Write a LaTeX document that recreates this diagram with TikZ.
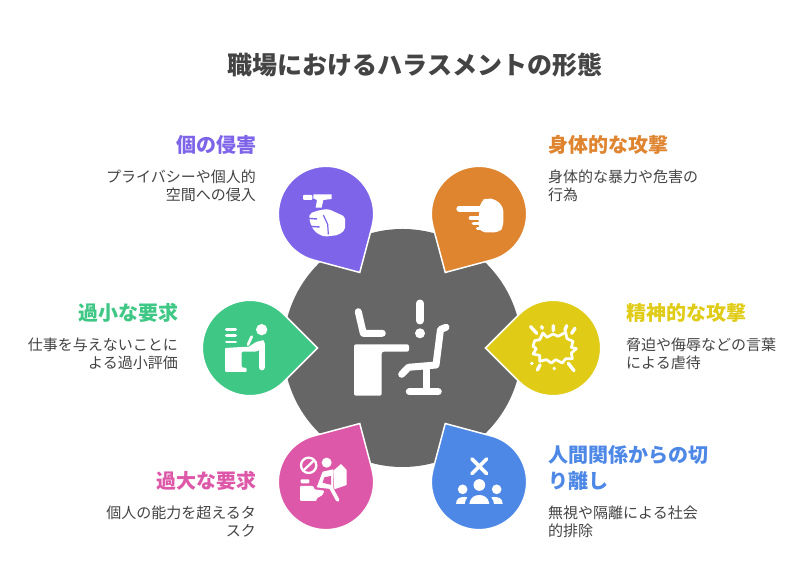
\documentclass[tikz,border=0pt]{standalone}
\usepackage{fontspec}
\setmainfont{Noto Sans CJK JP}
\definecolor{cpurple}{HTML}{7D64E8}
\definecolor{corange}{HTML}{DF842F}
\definecolor{cyellow}{HTML}{E0CC17}
\definecolor{cgreen}{HTML}{3EC785}
\definecolor{cpink}{HTML}{DD58A8}
\definecolor{cblue}{HTML}{4E88E7}
\definecolor{cgray}{HTML}{666666}
\definecolor{ctext}{HTML}{444444}
\tikzset{
  droplet/.style={draw=white,line width=1.5pt},
  ln/.style={draw=white,line cap=round,line join=round},
  headl/.style={inner sep=0pt,font=\fontsize{20}{24}\selectfont\bfseries},
  bodyl/.style={inner sep=0pt,text=ctext,font=\fontsize{15}{18.4}\selectfont},
  icon/.style={shift={#1},scale=1/3},
}
\newcommand{\dropshape}[4]{\begin{scope}[shift={(#1,#2)},rotate=#3]
  \filldraw[droplet,fill=#4] (67.5,0) -- (45:47.7) arc (45:315:47.7) -- cycle;
\end{scope}}
\begin{document}
\begin{tikzpicture}[x=1pt,y=1pt]
\path[use as bounding box,fill=white] (0,0) rectangle (804,588);
\begin{scope}[yshift=588pt,yscale=-1]
\fill[cgray] (402.5,348) circle (119);
\dropshape{326}{214}{60}{cpurple}
\dropshape{479}{214}{120}{corange}
\dropshape{553}{348}{180}{cyellow}
\dropshape{250}{348}{0}{cgreen}
\dropshape{326}{482}{-60}{cpink}
\dropshape{479}{482}{-120}{cblue}

% centre icon
\draw[ln,line width=7pt] (358.3,311.7) -- (363.3,333.3) -- (382.3,333.3);
\fill[white,rounded corners=2pt] (354,344.3) -- (409,344.3) -- (409,351.7) -- (381.7,351.7) -- (381.7,395.7) -- (354,395.7) -- cycle;
\draw[ln,line width=7.5pt] (420,303.3) -- (420,320.7);
\fill[white] (420,333.3) circle (5);
\draw[ln,line width=7pt] (446,327.3) -- (440.5,329.5) -- (436,365) -- (408.5,367.3) -- (401.7,374.3);
\draw[ln,line width=7pt] (409.3,391.7) -- (438.3,391.7);
\draw[draw=white,line width=7pt] (426.7,367) -- (426.7,391.7);

% purple icon
\begin{scope}[icon={(295,185)}]
\fill[white,rounded corners=1pt] (24,30) rectangle (52,45);
\fill[white] (55,28) -- (110,28) -- (110,42) -- (85,45) -- (80,68) -- (62,68) -- (66,45) -- (55,40) -- cycle;
\fill[white,rounded corners=2pt] (75,75) -- (100,72) -- (150,95) -- (150,135) -- (130,150) -- (90,155) -- (75,150) -- (60,140) -- (50,125) -- (42,100) -- (45,85) -- cycle;
\draw[cpurple,line width=1.2pt] (85,90) -- (98,118) -- (100,148);
\draw[cpurple,line width=1.4pt] (40,100) -- (66,102) (46,124) -- (74,126);
\end{scope}

% orange icon
\begin{scope}[icon={(450,185)}]
\draw[ln,line width=6pt] (28,71) -- (100,71);
\fill[white,rounded corners=5pt] (93,46) -- (110,40) -- (135,42) -- (160,65) -- (160,125) -- (148,142) -- (90,142) -- (85,110) -- (88,78) -- cycle;
\draw[ln,line width=4pt] (62,99) -- (90,99);
\draw[ln,line width=3.5pt] (70,116) -- (90,116);
\draw[ln,line width=3pt] (82,132) -- (95,132);
\end{scope}

% green icon
\begin{scope}[icon={(220,318)}]
\fill[white] (125,35) circle (17);
\draw[ln,line width=2.7pt] (19,35) -- (47,35) (19,53) -- (47,53) (19,72) -- (47,72);
\fill[white,rounded corners=1pt] (15,90) -- (65,87) -- (85,87) -- (108,72) -- (132,66) -- (132,90) -- (108,101) -- (65,101) -- (65,148) -- (80,150) -- (80,162) -- (15,162) -- cycle;
\draw[ln,line width=6pt] (125,78) -- (125,148);
\draw[ln,line width=2.7pt] (84,80) -- (95,56);
\end{scope}

% yellow icon
\begin{scope}[icon={(523,318)}]
\draw[ln,line width=2.7pt] (60,45) -- (72,58) -- (90,48) -- (105,55) -- (128,43) -- (132,62) -- (150,70) -- (145,88) -- (160,92) -- (145,105) -- (148,122) -- (128,122) -- (118,135) -- (98,125) -- (85,135) -- (70,125) -- (50,130) -- (50,112) -- (30,108) -- (40,92) -- (30,85) -- (35,68) -- (50,65) -- cycle;
\draw[ln,line width=3.4pt] (23,26) -- (41,46) (56,26) -- (58,31) (91,23) -- (91,38) (131,23) -- (126,36) (156,31) -- (146,46) (26,136) -- (27,136) (51,141) -- (43,156) (94,151) -- (94,152) (136,136) -- (153,158);
\end{scope}

% pink icon
\begin{scope}[icon={(296,450)}]
\draw[white,line width=2.3pt] (38,46) circle (23);
\draw[white,line width=2.3pt] (23,61) -- (54,31);
\fill[white] (92,38) circle (15);
\fill[white,rounded corners=1pt] (14,88) rectangle (40,100);
\fill[white,rounded corners=1pt] (12,108) -- (52,108) -- (55,118) -- (85,122) -- (80,135) -- (62,145) -- (62,153) -- (12,153) -- cycle;
\fill[white] (112,62) -- (135,42) -- (152,60) -- (152,105) -- (115,118) -- cycle;
\fill[white] (80,65) -- (112,58) -- (112,118) -- (62,112) -- cycle;
\fill[cpink] (85,82) -- (105,78) -- (105,105) -- (80,98) -- cycle;
\draw[ln,line width=3.6pt] (102,108) -- (125,150);
\end{scope}

% blue icon
\begin{scope}[icon={(450,450)}]
\draw[white,line width=3.6pt,line cap=round] (66,27) -- (110,71) (110,27) -- (66,71);
\fill[white] (88,105) circle (17.5) (38,118) circle (14.5) (140,118) circle (14.5);
\fill[white] (58,162) .. controls (60,142) and (75,135) .. (88,135) .. controls (101,135) and (116,142) .. (118,162) -- cycle;
\fill[white] (18,162) .. controls (18,145) and (30,138) .. (52,142) .. controls (46,150) and (45,155) .. (44,162) -- cycle;
\fill[white] (158,162) .. controls (158,145) and (146,138) .. (124,142) .. controls (130,150) and (131,155) .. (132,162) -- cycle;
\end{scope}

% texts
\node[inner sep=0pt,text=ctext,font=\fontsize{25}{30}\selectfont\bfseries] (title) at (415,65) {職場におけるハラスメントの形態};

\node[headl,text=cpurple,anchor=east] (h1) at (257,145) {個の侵害};
\node[bodyl,anchor=north east,align=right] (b1) at (256,169.5) {プライバシーや個人的\\空間への侵入};
\node[headl,text=corange,anchor=west] (h2) at (548,145) {身体的な攻撃};
\node[bodyl,anchor=north west,align=left] (b2) at (548,169.5) {身体的な暴力や危害の\\行為};
\node[headl,text=cgreen,anchor=east] (h3) at (179,313) {過小な要求};
\node[bodyl,anchor=north east,align=right] (b3) at (178,337.5) {仕事を与えないことに\\よる過小評価};
\node[headl,text=cyellow,anchor=west] (h4) at (626,313) {精神的な攻撃};
\node[bodyl,anchor=north west,align=left] (b4) at (626,337.5) {脅迫や侮辱などの言葉\\による虐待};
\node[headl,text=cpink,anchor=east] (h5) at (257,481) {過大な要求};
\node[bodyl,anchor=north east,align=right] (b5) at (256,505.5) {個人の能力を超えるタ\\スク};
\node[inner sep=0pt,text=cblue,anchor=north west,align=left,font=\fontsize{20}{25.5}\selectfont\bfseries] (h6) at (548,445.5) {人間関係からの切\\り離し};
\node[bodyl,anchor=north west,align=left] (b6) at (548,505.5) {無視や隔離による社会\\的排除};
\end{scope}
\end{tikzpicture}
\end{document}
